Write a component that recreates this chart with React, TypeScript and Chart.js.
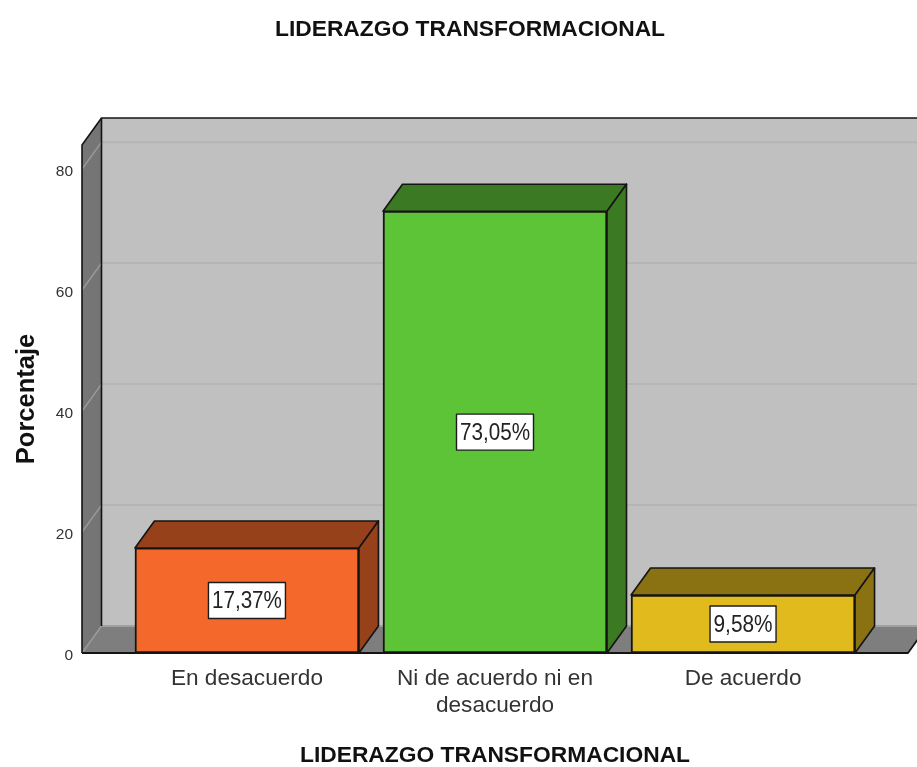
import React, { useEffect, useRef } from "react";
import { Chart, registerables } from "chart.js";

Chart.register(...registerables);

const categories = [["En desacuerdo"], ["Ni de acuerdo ni en", "desacuerdo"], ["De acuerdo"]];
const positions = [0, 1, 2];
const values = [17.37, 73.05, 9.58];
const valueLabels = ["17,37%", "73,05%", "9,58%"];
const faceColors = ["#F4692B", "#5DC438", "#E1BB1E"];
const sideColors = ["#964119", "#3B7A23", "#8A7212"];
const yTicks = [0, 20, 40, 60, 80];
const chartTitle = "LIDERAZGO TRANSFORMACIONAL";
const xTitle = "LIDERAZGO TRANSFORMACIONAL";
const yTitle = "Porcentaje";

const DX = 19.5;
const DY = 27;
const FONT = "'Liberation Sans', Arial, sans-serif";
const EDGE = "#141414";

function poly(ctx: CanvasRenderingContext2D, pts: number[][], fill: string | null, stroke: string | null, lw = 1.6) {
  ctx.beginPath();
  pts.forEach((p, i) => (i ? ctx.lineTo(p[0], p[1]) : ctx.moveTo(p[0], p[1])));
  if (fill) {
    ctx.closePath();
    ctx.fillStyle = fill;
    ctx.fill();
  }
  if (stroke) {
    ctx.strokeStyle = stroke;
    ctx.lineWidth = lw;
    ctx.lineJoin = "round";
    ctx.stroke();
  }
}

const box3d = {
  id: "box3d",
  beforeDatasetsDraw(chart: any) {
    const { ctx, chartArea: a, scales } = chart;
    const y = scales.y;
    const W = chart.width;
    ctx.save();
    // back wall
    poly(ctx, [[a.left + DX, a.top - DY], [W, a.top - DY], [W, a.bottom - DY], [a.left + DX, a.bottom - DY]], "#C0C0C0", null);
    // floor
    poly(ctx, [[a.left, a.bottom], [a.left + DX, a.bottom - DY], [a.right + DX, a.bottom - DY], [a.right, a.bottom]], "#7E7E7E", null);
    // left wall
    poly(ctx, [[a.left, a.top], [a.left + DX, a.top - DY], [a.left + DX, a.bottom - DY], [a.left, a.bottom]], "#757575", null);
    // grid on wall
    yTicks.forEach((t) => {
      const py = y.getPixelForValue(t);
      if (t > 0) poly(ctx, [[a.left + DX, py - DY], [W, py - DY]], null, "#B5B5B5", 2);
      poly(ctx, [[a.left, py], [a.left + DX, py - DY]], null, "#9C9C9C", 1.4);
    });
    poly(ctx, [[a.left + DX, a.bottom - DY], [W, a.bottom - DY]], null, "#A0A0A0", 2);
    // outline
    poly(ctx, [[a.left, a.bottom], [a.left, a.top], [a.left + DX, a.top - DY], [W, a.top - DY]], null, EDGE, 1.6);
    poly(ctx, [[a.left + DX, a.top - DY], [a.left + DX, a.bottom - DY]], null, EDGE, 1.6);
    poly(ctx, [[a.left, a.bottom], [a.right, a.bottom], [a.right + DX, a.bottom - DY]], null, EDGE, 1.8);
    ctx.restore();
  },
  afterDatasetsDraw(chart: any) {
    const { ctx } = chart;
    const bars = chart.getDatasetMeta(0).data;
    ctx.save();
    bars.forEach((b: any, i: number) => {
      const l = b.x - b.width / 2;
      const r = b.x + b.width / 2;
      const t = b.y;
      const o = b.base;
      poly(ctx, [[l, t], [l + DX, t - DY], [r + DX, t - DY], [r, t]], sideColors[i], EDGE);
      poly(ctx, [[r, t], [r + DX, t - DY], [r + DX, o - DY], [r, o]], sideColors[i], EDGE);
      // value label
      const text = valueLabels[i];
      ctx.font = `24px ${FONT}`;
      const tw = Math.min(ctx.measureText(text).width, text.length === 5 ? 59 : 70);
      const bw = tw + 7;
      const bh = 36;
      const cy = (t + o) / 2;
      ctx.fillStyle = "#FFFFFF";
      ctx.fillRect(b.x - bw / 2, cy - bh / 2, bw, bh);
      ctx.strokeStyle = "#1c1c1c";
      ctx.lineWidth = 1.4;
      ctx.strokeRect(b.x - bw / 2, cy - bh / 2, bw, bh);
      ctx.fillStyle = "#222222";
      ctx.textAlign = "center";
      ctx.textBaseline = "middle";
      ctx.fillText(text, b.x, cy + 1, tw);
    });
    ctx.restore();
  },
};

export default function App() {
  const ref = useRef<HTMLCanvasElement | null>(null);
  useEffect(() => {
    const chart = new Chart(ref.current as HTMLCanvasElement, {
      type: "bar",
      data: {
        datasets: [
          {
            data: positions.map((p, i) => ({ x: p, y: values[i] })),
            backgroundColor: faceColors,
            borderColor: EDGE,
            borderWidth: 2,
            borderSkipped: false,
            barThickness: 224,
          },
        ],
      },
      plugins: [box3d],
      options: {
        animation: false,
        responsive: false,
        layout: { padding: { left: 32, right: 9, top: 0, bottom: 0 } },
        plugins: {
          legend: { display: false },
          tooltip: { enabled: false },
          title: {
            display: true,
            text: chartTitle,
            color: "#111111",
            font: { family: FONT, size: 22.8, weight: "bold" },
            padding: { top: 16, bottom: 101.6 },
          },
        },
        scales: {
          x: {
            type: "linear",
            offset: false,
            min: -0.665,
            max: 2.665,
            afterBuildTicks: (s: any) => {
              s.ticks = positions.map((value) => ({ value }));
            },
            afterFit: (s: any) => {
              s.height = 114;
            },
            grid: { display: false, drawTicks: false, offset: false },
            border: { display: false },
            ticks: {
              autoSkip: false,
              maxRotation: 0,
              minRotation: 0,
              padding: 13,
              color: "#333333",
              font: { family: FONT, size: 22.6, lineHeight: 1.16 },
              callback: (v: any) => categories[v as number],
            },
            title: {
              display: true,
              text: xTitle,
              color: "#111111",
              font: { family: FONT, size: 22.8, weight: "bold" },
              padding: { top: 0, bottom: -2 },
            },
          },
          y: {
            min: 0,
            max: 84,
            afterBuildTicks: (s: any) => {
              s.ticks = yTicks.map((value) => ({ value }));
            },
            afterFit: (s: any) => {
              s.width = 50;
            },
            grid: { display: false, drawTicks: false },
            border: { display: false },
            ticks: {
              padding: 9,
              labelOffset: 3,
              color: "#333333",
              font: { family: FONT, size: 15.5 },
            },
            title: {
              display: true,
              text: yTitle,
              color: "#111111",
              font: { family: FONT, size: 25.5, weight: "bold" },
              padding: { top: -20.5, bottom: 0 },
            },
          },
        },
      },
    } as any);
    return () => chart.destroy();
  }, []);
  return (
    <div style={{ position: "absolute", left: 0, top: 0, width: 917, height: 767, overflow: "hidden", background: "#fff" }}>
      <canvas ref={ref} width={917} height={767} style={{ display: "block" }} />
    </div>
  );
}
